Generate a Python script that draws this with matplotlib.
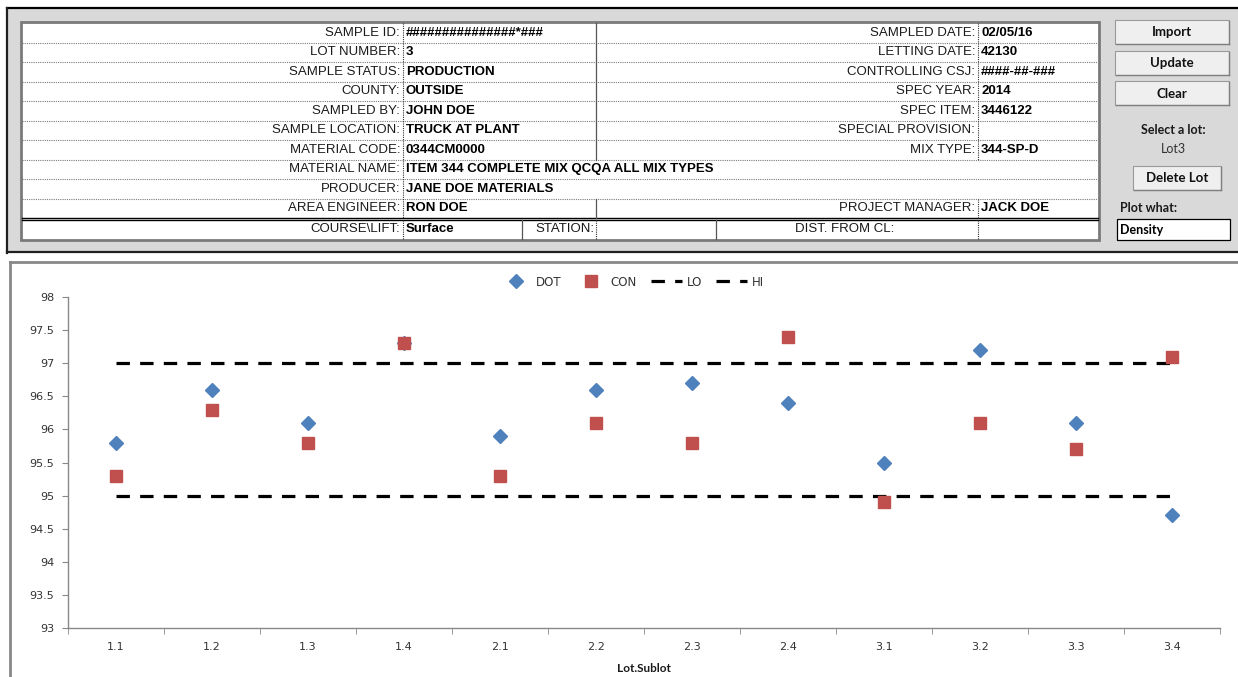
import matplotlib
matplotlib.use("Agg")
import matplotlib.pyplot as plt
from matplotlib.patches import Rectangle

# chart data
lots = ["1.1", "1.2", "1.3", "1.4", "2.1", "2.2", "2.3", "2.4", "3.1", "3.2", "3.3", "3.4"]
dot = [95.8, 96.6, 96.1, 97.3, 95.9, 96.6, 96.7, 96.4, 95.5, 97.2, 96.1, 94.7]
con = [95.3, 96.3, 95.8, 97.3, 95.3, 96.1, 95.8, 97.4, 94.9, 96.1, 95.7, 97.1]
lo = [95.0] * len(lots)
hi = [97.0] * len(lots)
yticks = [93, 93.5, 94, 94.5, 95, 95.5, 96, 96.5, 97, 97.5, 98]
ytick_labels = ["93", "93.5", "94", "94.5", "95", "95.5", "96", "96.5", "97", "97.5", "98"]

# form contents
left_labels = ["SAMPLE ID:", "LOT NUMBER:", "SAMPLE STATUS:", "COUNTY:", "SAMPLED BY:",
               "SAMPLE LOCATION:", "MATERIAL CODE:", "MATERIAL NAME:", "PRODUCER:", "AREA ENGINEER:"]
left_values = ["###############*###", "3", "PRODUCTION", "OUTSIDE", "JOHN DOE",
               "TRUCK AT PLANT", "0344CM0000", "ITEM 344 COMPLETE MIX QCQA ALL MIX TYPES",
               "JANE DOE MATERIALS", "RON DOE"]
right_labels = ["SAMPLED DATE:", "LETTING DATE:", "CONTROLLING CSJ:", "SPEC YEAR:", "SPEC ITEM:",
                "SPECIAL PROVISION:", "MIX TYPE:", None, None, "PROJECT MANAGER:"]
right_values = ["02/05/16", "42130", "####-##-###", "2014", "3446122", "", "344-SP-D", None, None, "JACK DOE"]
buttons = ["Import", "Update", "Clear"]

W, H = 1238, 677
fig = plt.figure(figsize=(W / 100, H / 100), dpi=100)
fig.patch.set_facecolor("white")

bg = fig.add_axes([0, 0, 1, 1], zorder=0)
bg.set_xlim(0, W)
bg.set_ylim(H, 0)
bg.axis("off")

narrow = ["Liberation Sans Narrow", "Liberation Sans", "DejaVu Sans"]
ui = ["Lato", "DejaVu Sans"]

# ---- top form panel ----
bg.add_patch(Rectangle((7, 8), W - 7, 245, facecolor="#d9d9d9", edgecolor="none"))
bg.plot([7, W], [8, 8], color="black", lw=1.6)
bg.plot([7, 7], [8, 253], color="#202020", lw=1.6)
bg.plot([7, W], [252, 252], color="#202020", lw=1.6)

tx0, tx1, ty0, ty1 = 21, 1099, 22, 240
bg.add_patch(Rectangle((tx0, ty0), tx1 - tx0, ty1 - ty0, facecolor="white",
                       edgecolor="#7a7a7a", lw=2.0))

row_h = 19.5
row_top = [23 + i * row_h for i in range(10)]
for i in range(1, 10):
    bg.plot([tx0 + 1, tx1 - 1], [row_top[i], row_top[i]], color="#7a7a7a", lw=0.8, ls=(0, (1, 1)))
# double line before the last row
bg.plot([tx0 + 1, tx1 - 1], [217.5, 217.5], color="black", lw=1.0)
bg.plot([tx0 + 1, tx1 - 1], [220, 220], color="black", lw=1.0)

# vertical separators
bg.plot([403, 403], [23, 217.5], color="#333333", lw=0.8, ls=(0, (1, 1)))
bg.plot([403, 403], [220, 239], color="#333333", lw=0.8, ls=(0, (1, 1)))
bg.plot([596, 596], [23, row_top[7]], color="#555555", lw=0.9)
bg.plot([596, 596], [row_top[9], 217.5], color="#555555", lw=0.9)
bg.plot([978, 978], [23, row_top[7]], color="#333333", lw=0.8, ls=(0, (1, 1)))
bg.plot([978, 978], [row_top[9], 217.5], color="#333333", lw=0.8, ls=(0, (1, 1)))
bg.plot([522, 522], [220, 239], color="#555555", lw=0.9)
bg.plot([596, 596], [220, 239], color="#333333", lw=0.8, ls=(0, (1, 1)))
bg.plot([716, 716], [220, 239], color="#555555", lw=0.9)
bg.plot([978, 978], [220, 239], color="#333333", lw=0.8, ls=(0, (1, 1)))

for i in range(10):
    yc = row_top[i] + row_h / 2
    bg.text(400, yc, left_labels[i], ha="right", va="center", fontsize=9.5,
            family=narrow, color="#1a1a1a")
    bg.text(406, yc, left_values[i], ha="left", va="center", fontsize=9.5,
            family=narrow, weight="bold", color="black")
    if right_labels[i] is not None:
        bg.text(975, yc, right_labels[i], ha="right", va="center", fontsize=9.5,
                family=narrow, color="#1a1a1a")
        bg.text(981, yc, right_values[i], ha="left", va="center", fontsize=9.5,
                family=narrow, weight="bold", color="black")

yc = 229.5
bg.text(400, yc, "COURSE\\LIFT:", ha="right", va="center", fontsize=9.5, family=narrow, color="#1a1a1a")
bg.text(406, yc, "Surface", ha="left", va="center", fontsize=9.5, family=narrow, weight="bold")
bg.text(594, yc, "STATION:", ha="right", va="center", fontsize=9.5, family=narrow, color="#1a1a1a")
bg.text(845, yc, "DIST. FROM CL:", ha="center", va="center", fontsize=9.5, family=narrow, color="#1a1a1a")

# buttons on the right
def button(x, y, w, h, label):
    bg.add_patch(Rectangle((x, y), w, h, facecolor="#efefef", edgecolor="#9a9a9a", lw=0.8))
    bg.plot([x + 1, x + w], [y + h, y + h], color="#7f7f7f", lw=1.0)
    bg.plot([x + w, x + w], [y + 1, y + h], color="#7f7f7f", lw=1.0)
    bg.text(x + w / 2, y + h / 2 + 0.5, label, ha="center", va="center", fontsize=9.5,
            family=ui, weight="bold", color="#111111")

for k, b in enumerate(buttons):
    button(1115, 20 + k * 30.5, 114, 24, b)
bg.text(1173, 130, "Select a lot:", ha="center", va="center", fontsize=9, family=ui,
        weight="bold", color="#1a1a1a")
bg.text(1173, 149, "Lot3", ha="center", va="center", fontsize=9, family=ui, color="#333333")
button(1133, 166, 88, 24, "Delete Lot")
bg.text(1120, 208, "Plot what:", ha="left", va="center", fontsize=9, family=ui,
        weight="bold", color="#1a1a1a")
bg.add_patch(Rectangle((1117, 219), 113, 21, facecolor="white", edgecolor="black", lw=0.9))
bg.text(1120, 229.5, "Density", ha="left", va="center", fontsize=9, family=ui, weight="bold")

# ---- chart panel ----
bg.add_patch(Rectangle((10, 262), W - 10, H - 262, facecolor="white", edgecolor="none"))
bg.plot([10, W], [262, 262], color="#888888", lw=2.0)
bg.plot([10, 10], [262, H], color="#888888", lw=2.0)

ax = fig.add_axes([68 / W, (H - 628) / H, (1220 - 68) / W, (628 - 297) / H], zorder=1)
ax.patch.set_alpha(0)
x = list(range(len(lots)))

ax.plot(x, dot, ls="none", marker="D", ms=6.8, color="#4f81bd", label="DOT", zorder=3)
ax.plot(x, con, ls="none", marker="s", ms=8, color="#c0504d", label="CON", zorder=3)
ax.plot(x, lo, color="black", lw=2.3, dashes=(4.2, 3.2), label="LO", zorder=2)
ax.plot(x, hi, color="black", lw=2.3, dashes=(4.2, 3.2), label="HI", zorder=2)

ax.set_xlim(-0.5, len(lots) - 0.5)
ax.set_ylim(93, 98)
ax.set_yticks(yticks)
ax.set_yticklabels(ytick_labels)
ax.set_xticks(x)
ax.set_xticklabels(lots)
ax.set_xticks([i - 0.5 for i in range(len(lots) + 1)], minor=True)
ax.tick_params(axis="x", which="major", length=0, pad=10)
ax.tick_params(axis="x", which="minor", length=4, color="#888888", direction="out")
ax.tick_params(axis="y", length=4, color="#888888", pad=6)
ax.tick_params(labelsize=8, labelcolor="#333333")
for lab in ax.get_xticklabels() + ax.get_yticklabels():
    lab.set_family("DejaVu Sans")

for s in ["top", "right"]:
    ax.spines[s].set_visible(False)
for s in ["left", "bottom"]:
    ax.spines[s].set_color("#888888")
    ax.spines[s].set_linewidth(1.0)

ax.set_xlabel("Lot.Sublot", fontsize=8.5, weight="bold", family=ui, labelpad=8, color="#1a1a1a")

fig.legend(loc="center", bbox_to_anchor=(632 / W, 1 - 282 / H), ncol=4, frameon=False,
           fontsize=8.5, handlelength=2.6, handletextpad=0.4, columnspacing=1.2,
           labelcolor="#333333")

fig.savefig("out.png", dpi=100)
